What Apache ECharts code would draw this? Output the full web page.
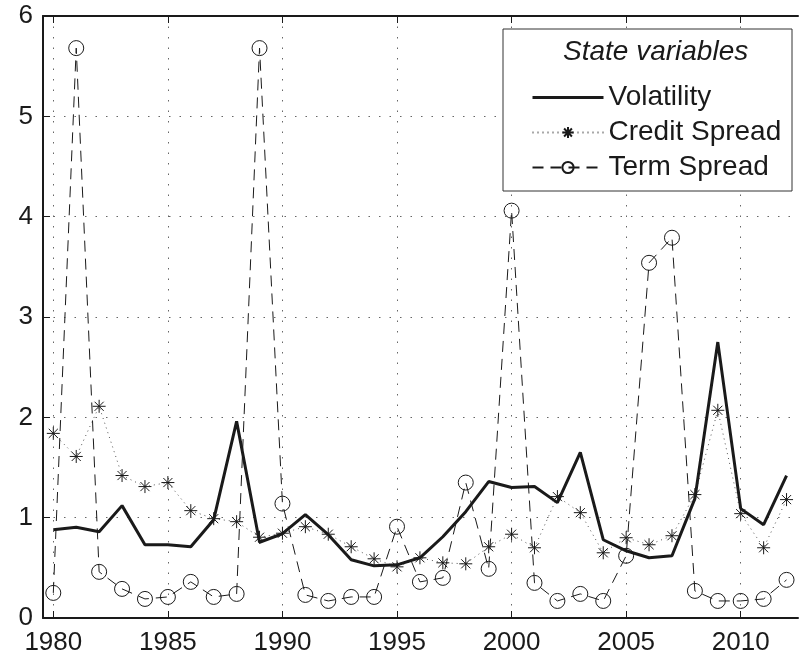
<!DOCTYPE html>
<html>
<head>
<meta charset="utf-8">
<script src="https://cdn.jsdelivr.net/npm/echarts@6/dist/echarts.min.js"></script>
<style>html,body{margin:0;padding:0;background:#fff;}#c{width:799px;height:656px;}</style>
</head>
<body>
<div id="c"></div>
<script>
var years = [];
for (var y = 1980; y <= 2012; y++) years.push(y);
var volatility = [0.88,0.905,0.86,1.12,0.73,0.73,0.71,0.98,1.96,0.755,0.84,
                  1.03,0.83,0.58,0.52,0.53,0.60,0.81,1.06,1.36,1.30,1.31,
                  1.15,1.65,0.78,0.67,0.60,0.62,1.19,2.75,1.09,0.93,1.42];
var creditSpread = [1.84,1.61,2.11,1.42,1.31,1.35,1.07,0.99,0.96,0.805,0.845,
                    0.91,0.835,0.71,0.59,0.51,0.60,0.55,0.54,0.71,0.835,0.70,
                    1.21,1.05,0.65,0.80,0.73,0.82,1.23,2.07,1.04,0.70,1.18];
var termSpread = [0.25,5.68,0.46,0.29,0.19,0.21,0.36,0.21,0.24,5.68,1.14,
                  0.23,0.17,0.21,0.21,0.91,0.36,0.40,1.35,0.49,4.06,0.35,
                  0.17,0.24,0.17,0.62,3.54,3.79,0.27,0.17,0.17,0.19,0.38];
var xTicks = [1980,1985,1990,1995,2000,2005,2010];
var yTicks = [0,1,2,3,4,5,6];
var legendTitle = 'State variables';
var seriesNames = ['Volatility','Credit Spread','Term Spread'];

function zip(v){ return years.map(function(x,i){ return [x, v[i]]; }); }

var FONT = '"Liberation Sans", Arial, Helvetica, sans-serif';
var INK = '#1a1a1a';
var starPath = 'path://M0,-6L0,6M-6,0L6,0M-4.2,-4.2L4.2,4.2M-4.2,4.2L4.2,-4.2';

var chart = echarts.init(document.getElementById('c'), null, {renderer:'canvas'});
chart.setOption({
  animation: false,
  backgroundColor: '#fff',
  grid: {left: 43, right: 1, top: 16, bottom: 35, containLabel: false},
  xAxis: [{
    type: 'value', position: 'bottom', min: 1979.55, max: 2012.5,
    axisLine: {show: true, lineStyle: {color: INK, width: 2}},
    axisTick: {show: true, inside: true, length: 7, customValues: xTicks, lineStyle: {color: INK, width: 1}},
    axisLabel: {show: true, customValues: xTicks, fontSize: 26, fontFamily: FONT, color: INK, margin: 12, formatter: function(v){return String(v);}},
    splitLine: {show: true, lineStyle: {color: '#666', width: 1, type: [1.5, 9]}}
  },{
    type: 'value', position: 'top', min: 1979.55, max: 2012.5,
    axisLine: {show: true, onZero: false, lineStyle: {color: INK, width: 2}},
    axisTick: {show: true, inside: true, length: 7, customValues: xTicks, lineStyle: {color: INK, width: 1}},
    axisLabel: {show: false},
    splitLine: {show: false}
  }],
  yAxis: [{
    type: 'value', min: 0, max: 6, interval: 1,
    axisLine: {show: true, onZero: false, lineStyle: {color: INK, width: 2}},
    axisTick: {show: true, inside: true, length: 7, lineStyle: {color: INK, width: 1}},
    axisLabel: {show: true, fontSize: 26, fontFamily: FONT, color: INK, margin: 10,
      formatter: function(v){ return yTicks.indexOf(v) >= 0 ? String(v) : ''; }},
    splitLine: {show: true, lineStyle: {color: '#666', width: 1, type: [1.5, 9]}}
  }],
  legend: {
    show: true, orient: 'vertical', left: 526, top: 77, z: 10,
    itemWidth: 71, itemHeight: 14, itemGap: 4, itemTextGap: 10,
    textStyle: {fontSize: 28, fontFamily: FONT, color: INK, lineHeight: 31},
    data: [
      {name: seriesNames[0], itemStyle: {color: 'rgba(0,0,0,0)', borderWidth: 0}, lineStyle: {color: INK, width: 3}},
      {name: seriesNames[1]},
      {name: seriesNames[2]}
    ]
  },
  graphic: [{
    type: 'rect', z: 8, zlevel: 0,
    shape: {x: 503, y: 29, width: 289, height: 162},
    style: {fill: '#fff', stroke: '#333', lineWidth: 1}
  },{
    type: 'text', z: 9, left: 563, top: 38,
    style: {text: legendTitle, fontSize: 28, fontStyle: 'italic', fontFamily: FONT, fill: INK}
  }],
  series: [{
    name: seriesNames[0], type: 'line', data: zip(volatility), z: 4,
    showSymbol: false, symbol: 'none',
    lineStyle: {color: INK, width: 3}, itemStyle: {color: INK}
  },{
    name: seriesNames[1], type: 'line', data: zip(creditSpread), z: 3,
    symbol: starPath, symbolSize: 13, showAllSymbol: true,
    lineStyle: {color: '#555', width: 1, type: [1, 4]},
    itemStyle: {color: INK, borderColor: INK, borderWidth: 1}
  },{
    name: seriesNames[2], type: 'line', data: zip(termSpread), z: 3,
    symbol: 'circle', symbolSize: 15, showAllSymbol: true,
    lineStyle: {color: INK, width: 1, type: [11, 7]},
    itemStyle: {color: 'rgba(255,255,255,0)', borderColor: INK, borderWidth: 1}
  }]
});
</script>
</body>
</html>
